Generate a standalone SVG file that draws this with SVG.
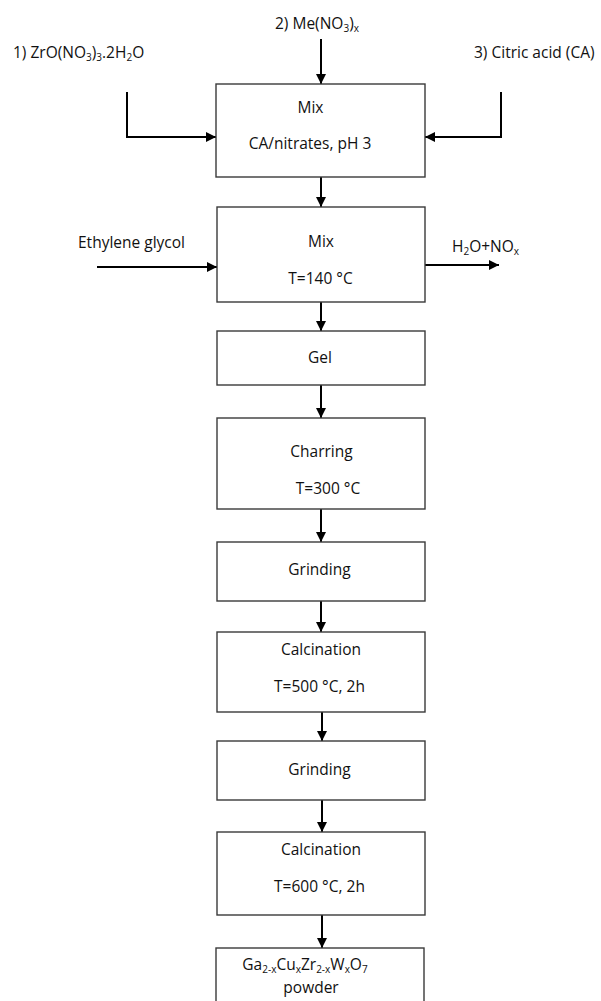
<svg xmlns="http://www.w3.org/2000/svg" width="601" height="1001" viewBox="0 0 601 1001">
<style>
.box{fill:#fff;stroke:#3a3a3a;stroke-width:1.4}
.t{font-family:"Open Sans","Liberation Sans",sans-serif;font-size:15.5px;fill:#111}
.c{text-anchor:middle}
.s{font-size:10px}
.con{fill:none;stroke:#000;stroke-width:2}
</style>
<defs>
<marker id="ah" markerUnits="userSpaceOnUse" markerWidth="10" markerHeight="10" viewBox="0 0 10 10" refX="10" refY="5" orient="auto">
<path d="M0,0 L10,5 L0,10 z" fill="#000"/>
</marker>
</defs>
<rect width="601" height="1001" fill="#fff"/>
<g id="connectors">
<line class="con" x1="321" y1="39" x2="321" y2="84" marker-end="url(#ah)"/>
<path class="con" d="M127 92 V137 H216" marker-end="url(#ah)"/>
<path class="con" d="M501 92 V137 H425" marker-end="url(#ah)"/>
<line class="con" x1="321" y1="177" x2="321" y2="207" marker-end="url(#ah)"/>
<line class="con" x1="97" y1="267" x2="217" y2="267" marker-end="url(#ah)"/>
<line class="con" x1="425" y1="265" x2="499" y2="265" marker-end="url(#ah)"/>
<line class="con" x1="321" y1="302" x2="321" y2="331" marker-end="url(#ah)"/>
<line class="con" x1="321" y1="385" x2="321" y2="418" marker-end="url(#ah)"/>
<line class="con" x1="321" y1="509" x2="321" y2="542" marker-end="url(#ah)"/>
<line class="con" x1="321" y1="601" x2="321" y2="632" marker-end="url(#ah)"/>
<line class="con" x1="322" y1="712" x2="322" y2="741" marker-end="url(#ah)"/>
<line class="con" x1="322" y1="800" x2="322" y2="832" marker-end="url(#ah)"/>
<line class="con" x1="322" y1="915" x2="322" y2="948" marker-end="url(#ah)"/>
</g>
<g id="input1"><text class="t" x="13" y="58">1) ZrO(NO<tspan class="s" dy="3">3</tspan><tspan dy="-3">)</tspan><tspan class="s" dy="3">3</tspan><tspan dy="-3">.2H</tspan><tspan class="s" dy="3">2</tspan><tspan dy="-3">O</tspan></text></g>
<g id="input2"><text class="t" x="275" y="29">2) Me(NO<tspan class="s" dy="3">3</tspan><tspan dy="-3">)</tspan><tspan class="s" dy="3">x</tspan></text></g>
<g id="input3"><text class="t" x="474" y="58">3) Citric acid (CA)</text></g>
<g id="input4"><text class="t" x="78" y="248">Ethylene glycol</text></g>
<g id="output1"><text class="t" x="452" y="252">H<tspan class="s" dy="3">2</tspan><tspan dy="-3">O+NO</tspan><tspan class="s" dy="3">x</tspan></text></g>
<g id="mix1"><rect class="box" x="216" y="84" width="209" height="93"/>
<text class="t c" x="310.5" y="113">Mix</text><text class="t c" x="310" y="149">CA/nitrates, pH 3</text></g>
<g id="mix2"><rect class="box" x="217" y="207" width="208" height="95"/>
<text class="t c" x="321" y="247">Mix</text><text class="t c" x="320.5" y="284">T=140 °C</text></g>
<g id="gel"><rect class="box" x="217" y="331" width="208" height="54"/>
<text class="t c" x="320" y="363">Gel</text></g>
<g id="charring"><rect class="box" x="217" y="418" width="208" height="91"/>
<text class="t c" x="321.5" y="457">Charring</text><text class="t c" x="328" y="494">T=300 °C</text></g>
<g id="grinding1"><rect class="box" x="217" y="542" width="208" height="59"/>
<text class="t c" x="319.5" y="575">Grinding</text></g>
<g id="calcination1"><rect class="box" x="217" y="632" width="208" height="80"/>
<text class="t c" x="321" y="655">Calcination</text><text class="t c" x="319.5" y="692">T=500 °C, 2h</text></g>
<g id="grinding2"><rect class="box" x="217" y="741" width="208" height="59"/>
<text class="t c" x="319.5" y="775">Grinding</text></g>
<g id="calcination2"><rect class="box" x="217" y="832" width="208" height="83"/>
<text class="t c" x="321" y="855">Calcination</text><text class="t c" x="319.5" y="892">T=600 °C, 2h</text></g>
<g id="product"><rect class="box" x="216" y="948" width="208" height="70"/>
<text class="t c" x="305" y="970">Ga<tspan class="s" dy="3">2-x</tspan><tspan dy="-3">Cu</tspan><tspan class="s" dy="3">x</tspan><tspan dy="-3">Zr</tspan><tspan class="s" dy="3">2-x</tspan><tspan dy="-3">W</tspan><tspan class="s" dy="3">x</tspan><tspan dy="-3">O</tspan><tspan class="s" dy="3">7</tspan></text>
<text class="t c" x="311" y="993">powder</text></g>
</svg>
